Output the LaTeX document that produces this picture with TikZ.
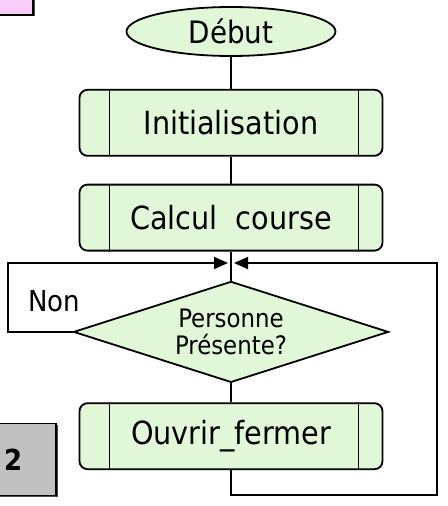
\documentclass[tikz,border=0pt]{standalone}
\usepackage{fontspec}
\setmainfont{DejaVu Sans Condensed}
\usepackage{tikz}
\usetikzlibrary{
	shapes.geometric,
	positioning,
	arrows.meta,
	shadows
}
\definecolor{boxgreen}{RGB}{224,248,216}
\definecolor{tabpink}{RGB}{250,204,250}
\definecolor{sheetgray}{RGB}{192,192,192}
\tikzset{
	every node/.append style={
		line width=1.8bp
	},
	flow/.style={
		line width=1.8bp
	},
	tip/.style={
		-{Triangle[length=14bp,width=12bp]},
		shorten >=3bp
	},
	startnode/.style={
		ellipse,draw,fill=boxgreen,
		minimum width=209bp,minimum height=49bp,inner sep=0pt,
		font=\fontsize{31}{34}\selectfont
	},
	procbox/.style={
		rectangle,rounded corners=8bp,draw,fill=boxgreen,
		minimum width=303bp,minimum height=66bp,inner sep=0pt,
		font=\fontsize{32}{36}\selectfont
	},
	testnode/.style={
		diamond,draw,fill=boxgreen,aspect=3.1,
		minimum width=315bp,minimum height=101bp,inner sep=0pt,
		align=center,font=\fontsize{25.5}{27}\selectfont
	},
	cornerbox/.style={
		rectangle,draw,line width=1.2bp,
		drop shadow={shadow xshift=1.5bp,shadow yshift=-1.5bp,fill=black!70,opacity=1}
	}
}

\begin{document}
\begin{tikzpicture}[x=1bp,y=-1bp]
		\useasboundingbox (0,0) rectangle (448,506);
		
		% corner boxes
		\node[cornerbox,fill=tabpink,minimum width=53bp,minimum height=35bp] (tab) at (6.5,-2.5) {};
		\node[cornerbox,fill=sheetgray,minimum height=72bp,inner xsep=24bp,text width=28bp,align=left,
			font=\fontsize{29}{32}\selectfont\bfseries] (sheet) at (18,459.5) {2};
		
		% flowchart
		\node[startnode]                      (debut)  at (231,31.5) {Début};
		\node[procbox,below=32bp of debut]    (init)   {Initialisation};
		\node[procbox,below=27bp of init]     (calcul) {Calcul\ \ course};
		\node[testnode,below=29bp of calcul]  (test)   {Personne\\Présente?};
		\node[procbox,below=19bp of test]     (ouvrir) {Ouvrir\_fermer};
		
		\foreach \n in {init,calcul,ouvrir}{
			\draw[flow,line width=1bp] ([xshift=31bp]\n.north west) -- ([xshift=31bp]\n.south west);
			\draw[flow,line width=1bp] ([xshift=-25bp]\n.north east) -- ([xshift=-25bp]\n.south east);
		}
		
		\node[font=\fontsize{29}{32}\selectfont] (non) at (54,301) {Non};
		
		\coordinate (merge) at (231,263);
		\coordinate (loopL) at (8,263);
		\coordinate (loopR) at (437,263);
		\coordinate (loopB) at (437,495);
		
		\draw[flow] (debut) -- (init);
		\draw[flow] (init) -- (calcul);
		\draw[flow] (calcul) -- (test);
		\draw[flow] (test) -- (ouvrir);
		\draw[flow,tip] (test.west) -- (test.west -| loopL) -- (loopL) -- (merge);
		\draw[flow,tip] (ouvrir.south) |- (loopB) -- (loopR) -- (merge);
	\end{tikzpicture}
\end{document}
